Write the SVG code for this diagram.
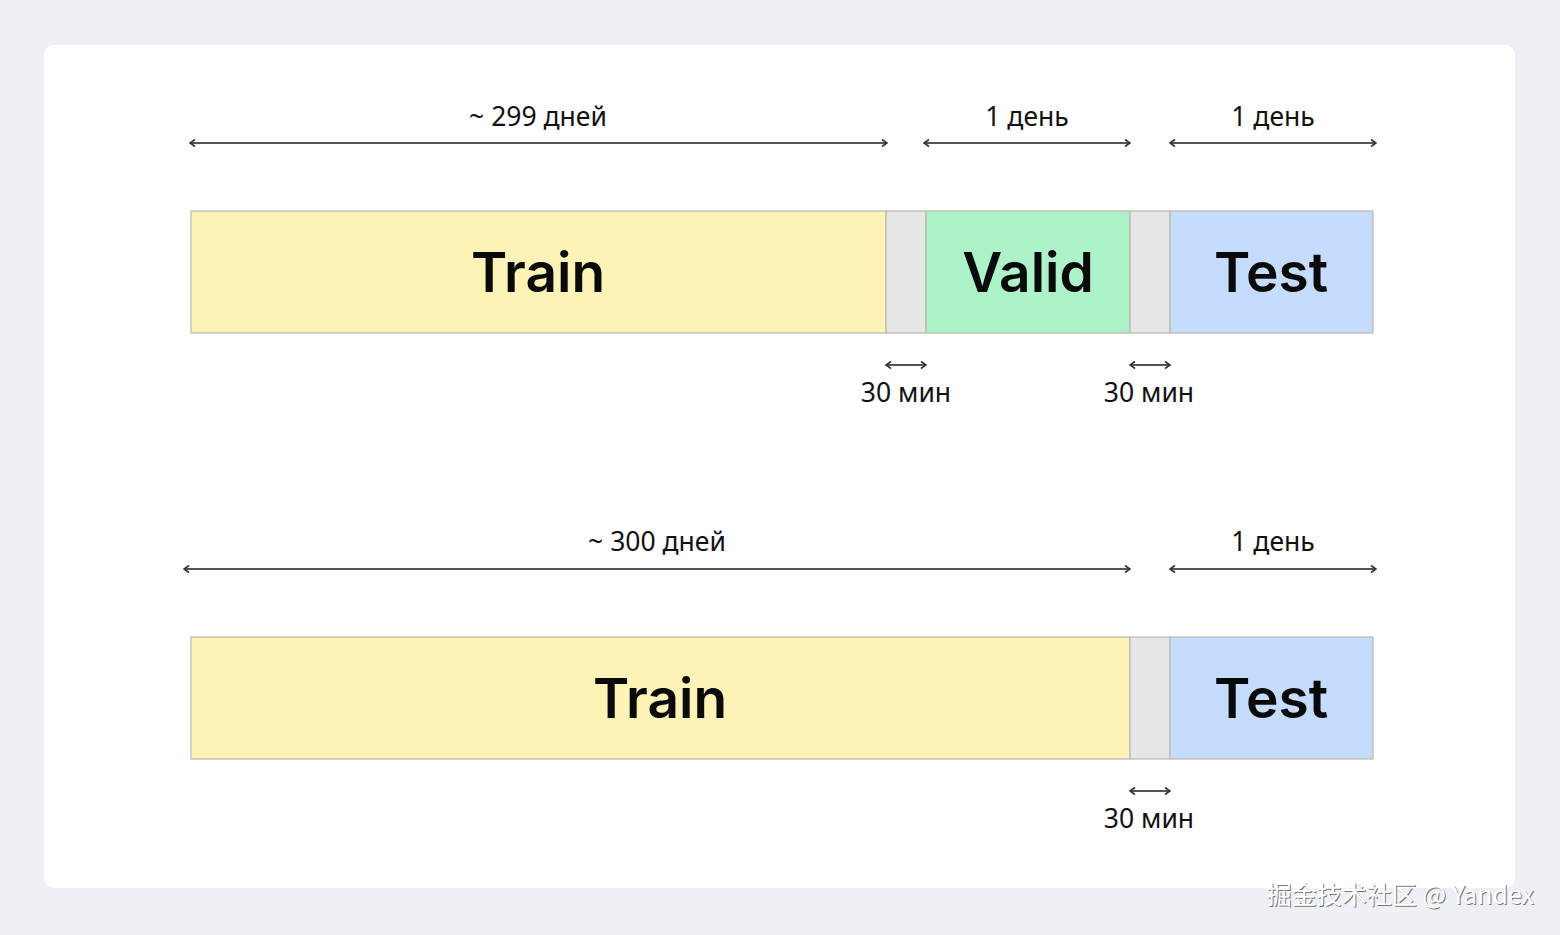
<svg xmlns="http://www.w3.org/2000/svg" width="1560" height="935" viewBox="0 0 1560 935">
<defs>
<style>
.lbl{font-family:"Noto Sans","Liberation Sans",sans-serif;font-size:26.5px;fill:#111;text-anchor:middle}
.big{font-family:"Inter","Noto Sans","Liberation Sans",sans-serif;font-size:55px;font-weight:600;fill:#0a0a0a;text-anchor:middle}
.bar{stroke:#b9b9ae;stroke-width:1.2}
.arr{stroke:#555;stroke-width:2;fill:none;marker-start:url(#a);marker-end:url(#a)}
.wm{font-family:"Noto Sans CJK SC","Liberation Sans",sans-serif;font-size:25px;text-anchor:end}
</style>
<marker id="a" viewBox="0 0 10 10" refX="9" refY="5" markerWidth="10" markerHeight="10" markerUnits="userSpaceOnUse" orient="auto-start-reverse">
<path d="M4,1.5 L9,5 L4,8.5" fill="none" stroke="#333" stroke-width="1.6"/>
</marker>
</defs>
<rect width="1560" height="935" fill="#eff0f5"/>
<rect x="44" y="45" width="1471" height="843" rx="10" fill="#fff"/>

<g id="top-train"><rect class="bar" x="191" y="211" width="695" height="122" fill="#fdf3b6"/><text class="big" x="538" y="292">Train</text></g>
<g id="top-gap1"><rect class="bar" x="886" y="211" width="40" height="122" fill="#e6e6e6"/></g>
<g id="top-valid"><rect class="bar" x="926" y="211" width="204" height="122" fill="#adf2c8"/><text class="big" x="1028" y="292">Valid</text></g>
<g id="top-gap2"><rect class="bar" x="1130" y="211" width="40" height="122" fill="#e6e6e6"/></g>
<g id="top-test"><rect class="bar" x="1170" y="211" width="203" height="122" fill="#c6dcfd"/><text class="big" x="1271" y="292">Test</text></g>

<g id="bot-train"><rect class="bar" x="191" y="637" width="939" height="122" fill="#fdf3b6"/><text class="big" x="660" y="718">Train</text></g>
<g id="bot-gap"><rect class="bar" x="1130" y="637" width="40" height="122" fill="#e6e6e6"/></g>
<g id="bot-test"><rect class="bar" x="1170" y="637" width="203" height="122" fill="#c6dcfd"/><text class="big" x="1271" y="718">Test</text></g>

<g id="connectors">
<line class="arr" x1="190" y1="143" x2="887" y2="143"/>
<line class="arr" x1="924" y1="143" x2="1130" y2="143"/>
<line class="arr" x1="1170" y1="143" x2="1376" y2="143"/>
<line class="arr" x1="886" y1="365" x2="926" y2="365"/>
<line class="arr" x1="1130" y1="365" x2="1170" y2="365"/>
<line class="arr" x1="184" y1="569" x2="1130" y2="569"/>
<line class="arr" x1="1170" y1="569" x2="1376" y2="569"/>
<line class="arr" x1="1130" y1="791" x2="1170" y2="791"/>
</g>

<g id="labels">
<text class="lbl" x="538" y="126">~ 299 дней</text>
<text class="lbl" x="1027" y="126">1 день</text>
<text class="lbl" x="1273" y="126">1 день</text>
<text class="lbl" x="906" y="402">30 мин</text>
<text class="lbl" x="1149" y="402">30 мин</text>
<text class="lbl" x="657" y="551">~ 300 дней</text>
<text class="lbl" x="1273" y="551">1 день</text>
<text class="lbl" x="1149" y="828">30 мин</text>
</g>

<g id="watermark">
<text class="wm" x="1535" y="905" fill="#777">掘金技术社区 @ Yandex</text>
<text class="wm" x="1534" y="904" fill="#fff">掘金技术社区 @ Yandex</text>
</g>
</svg>
